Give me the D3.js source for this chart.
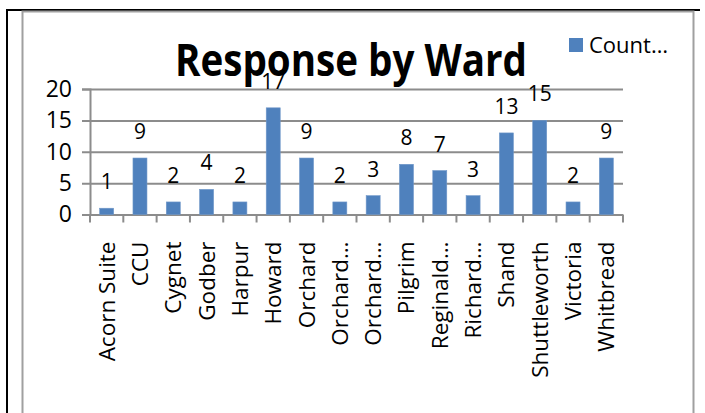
<!DOCTYPE html>
<html>
<head>
<meta charset="utf-8">
<script src="https://cdn.jsdelivr.net/npm/d3@7"></script>
<style>
  body { margin: 0; background: #fff; }
  svg text { font-family: "Open Sans", "DejaVu Sans", sans-serif; fill: #000; }
</style>
</head>
<body>
<div id="chart"></div>
<script>
// ward names as shown on the axis (long ones are cut by the chart)
var wards = ["Acorn Suite", "CCU", "Cygnet", "Godber", "Harpur", "Howard", "Orchard",
  "Orchard\u2026", "Orchard\u2026", "Pilgrim", "Reginald\u2026", "Richard\u2026", "Shand",
  "Shuttleworth", "Victoria", "Whitbread"];
var counts = [1, 9, 2, 4, 2, 17, 9, 2, 3, 8, 7, 3, 13, 15, 2, 9];
var yTicks = [0, 5, 10, 15, 20];
var seriesName = "Count\u2026";
var chartTitle = "Response by Ward";

var W = 705, H = 413;
var plotLeft = 90, plotRight = 623, plotTop = 89, plotBottom = 214.5;

var svg = d3.select('#chart').append('svg')
  .attr('width', W).attr('height', H);

svg.append('rect').attr('width', W).attr('height', H).attr('fill', '#fff');

// outer frame lines
svg.append('line').attr('x1', 7).attr('x2', 7).attr('y1', 9).attr('y2', H)
  .attr('stroke', '#000').attr('stroke-width', 2);
svg.append('line').attr('x1', 6).attr('x2', 700).attr('y1', 10).attr('y2', 10)
  .attr('stroke', '#000').attr('stroke-width', 2);
// chart area border
svg.append('path').attr('d', 'M22.5,' + H + 'V11.5H693.5V' + H)
  .attr('fill', 'none').attr('stroke', '#a0a0a0').attr('stroke-width', 2);

var x = d3.scaleBand()
  .domain(d3.range(wards.length))
  .range([plotLeft, plotRight])
  .paddingInner(0.58).paddingOuter(0.29);
var step = x.step();

var y = d3.scaleLinear().domain([0, 20]).range([plotBottom, plotTop]);

// gridlines + y axis labels
var yAxis = svg.append('g')
  .attr('transform', 'translate(' + plotLeft + ',0)')
  .call(d3.axisLeft(y).tickValues(yTicks).tickSize(8).tickPadding(10));
yAxis.select('.domain').attr('stroke', '#8c8c8c').attr('stroke-width', 2);
yAxis.selectAll('.tick line').attr('stroke', '#8c8c8c').attr('stroke-width', 2)
  .attr('x1', plotRight - plotLeft);
yAxis.selectAll('.tick text').attr('font-size', 23)
  .attr('font-family', '"Open Sans", sans-serif');

// category boundary ticks along the bottom
var bounds = d3.range(wards.length + 1);
svg.append('g').selectAll('line').data(bounds).enter().append('line')
  .attr('x1', function (d) { return plotLeft + d * step; })
  .attr('x2', function (d) { return plotLeft + d * step; })
  .attr('y1', plotBottom).attr('y2', plotBottom + 8)
  .attr('stroke', '#8c8c8c').attr('stroke-width', 2);

// bars
svg.selectAll('.bar').data(counts).enter().append('rect')
  .attr('class', 'bar')
  .attr('x', function (d, i) { return x(i); })
  .attr('y', function (d) { return y(d); })
  .attr('width', x.bandwidth())
  .attr('height', function (d) { return plotBottom - y(d); })
  .attr('fill', '#4f81bd')
  .attr('stroke', '#6f97c9').attr('stroke-width', 0.6);

// value labels
svg.selectAll('.val').data(counts).enter().append('text')
  .attr('class', 'val')
  .attr('x', function (d, i) { return x(i) + x.bandwidth() / 2; })
  .attr('y', function (d) { return y(d) - 19; })
  .attr('text-anchor', 'middle')
  .attr('font-size', 21)
  .text(function (d) { return d; });

// category labels, rotated
svg.selectAll('.cat').data(wards).enter().append('text')
  .attr('class', 'cat')
  .attr('transform', function (d, i) {
    return 'translate(' + (x(i) + x.bandwidth() / 2 + 8) + ',' + (plotBottom + 27) + ') rotate(-90)';
  })
  .attr('text-anchor', 'end')
  .attr('font-size', 22.5)
  .text(function (d) { return d; });

// title
svg.append('text')
  .attr('x', 351).attr('y', 76)
  .attr('text-anchor', 'middle')
  .attr('font-size', 45).attr('font-weight', 'bold')
  .attr('textLength', 352).attr('lengthAdjust', 'spacingAndGlyphs')
  .text(chartTitle);

// legend
svg.append('rect').attr('x', 569).attr('y', 38).attr('width', 14).attr('height', 14)
  .attr('fill', '#4f81bd');
svg.append('text').attr('x', 589).attr('y', 53)
  .attr('font-size', 22)
  .text(seriesName);
</script>
</body>
</html>
